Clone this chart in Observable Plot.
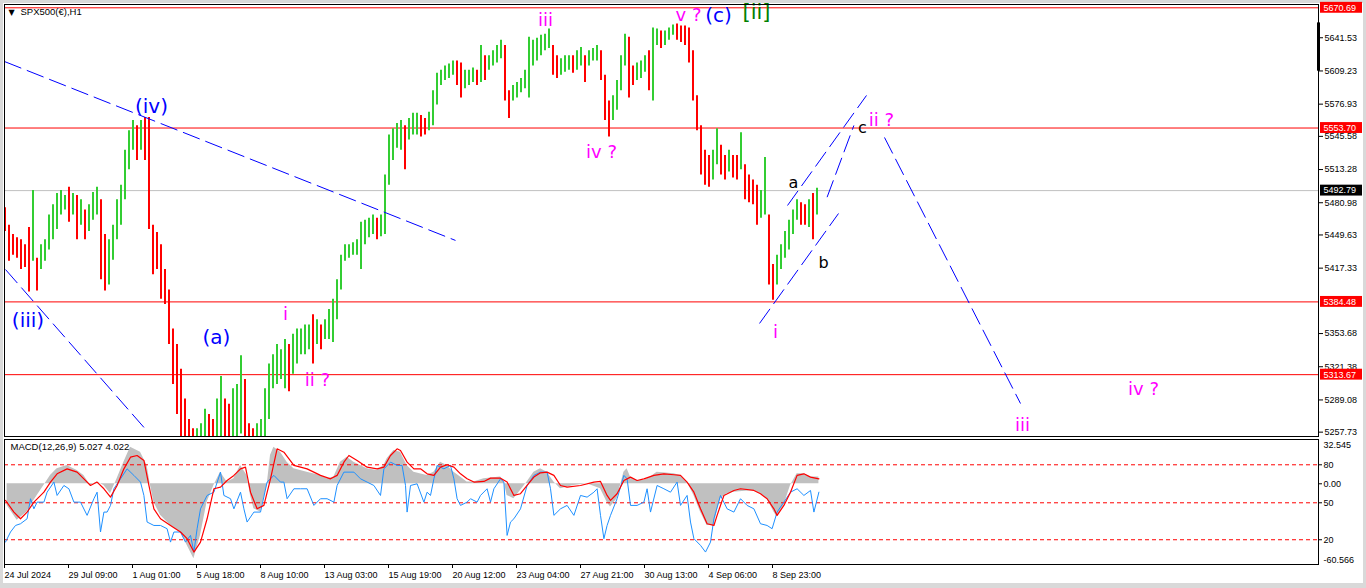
<!DOCTYPE html>
<html><head><meta charset="utf-8">
<script src="https://cdn.jsdelivr.net/npm/d3@7"></script>
<script src="https://cdn.jsdelivr.net/npm/@observablehq/plot@0.6"></script>
<style>
html,body{margin:0;padding:0;background:#d9d9d9;}
#wrap{position:relative;width:1366px;height:588px;background:#d9d9d9;overflow:hidden;}
#inner{position:absolute;left:3px;top:3px;width:1360px;height:580px;background:#fff;}
#main,#osc{position:absolute;left:0;}
#main{top:0px;}
#osc{top:437px;}
svg{display:block;}
</style></head><body>
<div id="wrap"><div id="inner"></div><div id="main"></div><div id="osc"></div></div>
<script>
// ---------- price data (2-hour samples of H1 bars) ----------
const priceHi = [5476,5459,5450,5447,5445,5440,5457,5493,5427,5440,5445,5469,5479,5490,5493,5488,5496,5490,5488,5484,
5474,5479,5491,5496,5484,5450,5445,5459,5484,5498,5532,5551,5561,5556,5561,5564,5564,5459,5452,5440,
5416,5396,5358,5343,5319,5290,5270,5261,5261,5266,5280,5275,5270,5290,5312,5290,5285,5300,5304,5332,
5309,5266,5261,5266,5270,5300,5324,5333,5343,5338,5348,5343,5353,5358,5358,5362,5362,5372,5367,5362,
5367,5377,5387,5406,5430,5440,5440,5442,5445,5462,5464,5466,5469,5466,5469,5508,5547,5553,5558,5561,
5556,5563,5568,5568,5566,5563,5569,5590,5607,5610,5614,5616,5619,5619,5617,5610,5610,5612,5610,5634,
5624,5624,5629,5634,5639,5634,5590,5595,5598,5602,5610,5642,5639,5641,5644,5645,5650,5634,5624,5621,
5624,5624,5624,5629,5632,5624,5629,5631,5634,5629,5605,5580,5585,5600,5624,5645,5642,5614,5617,5619,
5624,5629,5651,5650,5648,5648,5651,5654,5655,5653,5653,5651,5629,5585,5556,5532,5527,5532,5553,5537,
5527,5532,5527,5527,5549,5518,5508,5503,5498,5493,5525,5469,5421,5430,5440,5453,5464,5474,5484,5481,
5479,5484,5490,5495];
const priceLo = [5453,5424,5430,5427,5416,5418,5394,5424,5395,5416,5424,5435,5445,5455,5469,5474,5462,5469,5445,5459,
5445,5453,5464,5469,5406,5395,5401,5425,5445,5459,5484,5513,5532,5522,5532,5522,5455,5411,5416,5387,
5382,5343,5304,5275,5251,5232,5222,5222,5222,5232,5246,5241,5237,5251,5251,5246,5241,5251,5251,5256,
5246,5232,5227,5232,5241,5251,5270,5300,5304,5309,5300,5297,5314,5324,5333,5333,5338,5324,5343,5338,
5348,5348,5345,5367,5396,5424,5427,5430,5430,5416,5440,5447,5450,5445,5448,5450,5498,5522,5534,5532,
5513,5542,5547,5547,5545,5547,5551,5556,5576,5595,5600,5602,5605,5595,5583,5592,5595,5598,5595,5598,
5600,5610,5614,5617,5621,5580,5563,5580,5583,5588,5592,5583,5614,5619,5624,5629,5631,5605,5602,5605,
5608,5610,5607,5610,5614,5598,5614,5619,5619,5600,5561,5545,5561,5571,5590,5614,5583,5595,5600,5602,
5608,5590,5580,5634,5631,5634,5639,5644,5639,5637,5634,5617,5580,5551,5508,5498,5496,5503,5518,5508,
5503,5511,5505,5503,5513,5484,5481,5479,5459,5466,5469,5401,5386,5401,5416,5427,5435,5450,5464,5459,
5459,5457,5445,5469];

const redLevels = [5670.69, 5553.70, 5384.48, 5313.67];
const grayLevels = [5492.79];
const priceTicks = [5641.53,5609.23,5576.93,5545.58,5513.28,5480.98,5449.63,5417.33,5353.68,5321.38,5289.08,5257.73];

const timeTickBars = [0.5,32.5,64.5,96.5,128.5,160.5,192.5,224.5,256.5,288.5,320.5,352.5,384.5];
const timeLabels = ["24 Jul 2024","29 Jul 09:00","1 Aug 01:00","5 Aug 18:00","8 Aug 10:00","13 Aug 03:00","15 Aug 19:00",
"20 Aug 12:00","23 Aug 04:00","27 Aug 21:00","30 Aug 13:00","4 Sep 06:00","8 Sep 23:00"];

const trendLines = [
 {t1:0, p1:5618.4, t2:225.5, p2:5444.3},
 {t1:0.5, p1:5416.0, t2:71.5, p2:5258.4},
 {t1:377.5, p1:5363.5, t2:417, p2:5470.5},
 {t1:391.5, p1:5478.3, t2:431, p2:5585.4},
 {t1:411.3, p1:5486.4, t2:424.7, p2:5556.2},
 {t1:440, p1:5544.5, t2:508, p2:5285.6}
];

const waveLabels = [
 {text:"(iv)", t:73.5, p:5574.7, kind:"blue"},
 {text:"(iii)", t:11.75, p:5366.4, kind:"blue"},
 {text:"(a)", t:106, p:5349.9, kind:"blue"},
 {text:"(c)", t:357, p:5663.2, kind:"blue"},
 {text:"i", t:140.5, p:5372.2, kind:"mag"},
 {text:"ii ?", t:156.5, p:5308.0, kind:"mag"},
 {text:"iii", t:270.5, p:5658.3, kind:"mag"},
 {text:"iv ?", t:298.5, p:5529.9, kind:"mag"},
 {text:"v ?", t:342, p:5663.2, kind:"mag"},
 {text:"ii ?", t:438.5, p:5561.0, kind:"mag"},
 {text:"i", t:385.5, p:5354.7, kind:"mag"},
 {text:"iii", t:509, p:5264.2, kind:"mag"},
 {text:"iv ?", t:569.5, p:5299.3, kind:"mag"},
 {text:"a", t:394.5, p:5500.7, kind:"black"},
 {text:"b", t:409.5, p:5422.8, kind:"black"},
 {text:"c", t:429, p:5554.2, kind:"black"},
 {text:"[ii]", t:376, p:5666.1, kind:"green"}
];

// ---------- oscillator data ----------
const macdHist = [[1.3,-16.5],[6.3,-27.9],[11.3,-21.6],[14.7,-12.7],[19.7,-1.3],[23,6.4],[26.3,11.4],[31.3,14.0],[36.3,10.2],[39.7,6.4],[43,-1.3],[46.3,1.3],[49.7,-1.3],[53,-7.6],[56.3,3.8],[59.7,16.5],[63,27.9],[68,24.1],[71.3,14.0],[73,-1.3],[74.7,-14.0],[78,-24.1],[83,-31.8],[88,-36.8],[91.3,-47.0],[94.7,-57.2],[98,-39.4],[101.3,-14.0],[104.7,-1.3],[108,8.9],[111.3,1.3],[114.7,3.8],[118,14.0],[121.3,6.4],[123,-8.9],[124.7,-19.1],[128,-21.6],[131.3,-1.3],[133,21.6],[134.7,27.9],[138,24.1],[141.3,16.5],[144.7,11.4],[151.3,8.9],[158,6.4],[161.3,3.8],[164.7,5.1],[168,16.5],[171.3,20.3],[174.7,16.5],[178,14.0],[181.3,11.4],[186.3,10.2],[189.7,14.0],[191.3,19.1],[194.7,25.4],[198,24.1],[201.3,14.0],[204.7,8.9],[211.3,6.4],[214.7,8.9],[218,16.5],[221.3,14.0],[224.7,8.9],[228,5.1],[231.3,1.3],[234.7,1.3],[239.7,3.8],[248,5.1],[249.7,2.5],[251.3,-8.9],[254.7,-11.4],[258,-5.1],[261.3,1.3],[264.7,8.9],[268,11.4],[271.3,8.9],[274.7,1.3],[278,-3.8],[284.7,-1.3],[291.3,0],[298,-3.8],[301.3,-14.0],[303,-17.8],[306.3,-11.4],[308,-1.3],[309.7,8.9],[311.3,11.4],[313,5.1],[316.3,2.5],[319.7,2.5],[323,5.1],[326.3,8.9],[334.7,7.6],[338,6.4],[341.3,1.3],[344.7,-8.9],[348,-21.6],[351.3,-31.8],[354.7,-31.8],[356.3,-21.6],[358,-11.4],[361.3,-7.6],[364.7,-6.4],[374.7,-5.1],[378,-7.6],[381.3,-11.4],[384.7,-21.6],[386.3,-25.4],[389.7,-16.5],[393,-1.3],[396.3,7.6],[399.7,7.6],[403,5.1],[407.2,5.1]];

const macdSignal = [[0.5,-12.7],[4.7,-21.6],[8,-26.7],[11.3,-21.6],[14.7,-14.0],[19.7,-6.4],[23,1.3],[26.3,7.6],[31.3,11.4],[36.3,8.9],[39.7,3.8],[43,-1.3],[46.3,1.3],[49.7,-3.8],[53,-10.2],[56.3,-1.3],[59.7,11.4],[63,20.3],[66.3,21.6],[69.7,17.8],[72.2,-1.3],[74.7,-19.1],[78,-26.7],[83,-31.8],[88,-36.8],[91.3,-41.9],[94.7,-52.1],[98,-44.5],[101.3,-26.7],[104.7,-3.8],[108,-2.5],[111.3,2.5],[114.7,6.4],[118,11.4],[120.5,12.7],[123,-6.4],[126.3,-19.1],[129.7,-16.5],[133,3.8],[136.3,26.7],[139.7,24.1],[144.7,14.0],[151.3,11.4],[158,6.4],[163,3.8],[166.3,6.4],[169.7,16.5],[172.2,21.6],[176.3,17.8],[181.3,12.7],[186.3,11.4],[189.7,12.7],[193,21.6],[196.3,26.7],[198,25.4],[201.3,16.5],[204.7,11.4],[208,11.4],[211.3,7.6],[214.7,6.4],[218,12.7],[221.3,14.5],[224.7,12.7],[228,7.6],[231.3,3.8],[234.7,1.3],[239.7,1.8],[243,4.3],[248,4.3],[251.3,1.3],[254.7,-8.9],[258,-7.6],[261.3,-1.3],[264.7,5.1],[268,8.4],[271.3,8.9],[274.7,6.4],[278,-1.3],[281.3,-2.5],[288,-1.3],[294.7,1.3],[298,1.8],[301.3,-8.9],[303,-12.7],[306.3,-7.6],[309.7,2.5],[313,5.1],[316.3,2.5],[319.7,3.8],[324.7,6.4],[329.7,7.6],[334.7,6.9],[338,6.4],[341.3,1.3],[344.7,-6.4],[348,-19.1],[351.3,-30.5],[354.7,-31.8],[356.3,-24.1],[359.7,-8.9],[364.7,-5.1],[368,-3.8],[374.7,-5.1],[378,-7.6],[381.3,-11.4],[384.7,-19.1],[386.3,-24.1],[389.7,-16.5],[393,-6.4],[396.3,6.4],[399.7,7.6],[403,5.1],[407.2,3.8]];

const oscLine = [[0.5,-44.5],[3,-36.8],[5.5,-31.8],[8,-30.5],[11.3,-26.7],[13,-11.4],[14.7,-19.1],[16.3,-14.0],[19.7,-14.0],[21.3,-6.4],[24.7,1.3],[26.3,-8.9],[29.7,-1.3],[32.2,-3.8],[34.7,-14.0],[38,-14.0],[41.3,-24.1],[44.7,-11.4],[46.3,-6.4],[48,-36.8],[49.7,-21.6],[51.3,-21.6],[53,-16.5],[54.7,-3.8],[58,3.8],[61.3,11.4],[64.7,6.4],[68,1.3],[69.7,-8.9],[71.3,-29.2],[74.7,-31.8],[78,-31.8],[81.3,-34.3],[83,-44.5],[84.7,-36.8],[88,-36.8],[90.5,-44.5],[93,-39.4],[94.7,-52.1],[96.3,-34.3],[98,-19.1],[101.3,-8.9],[104.7,-6.4],[108,8.9],[109.7,-8.9],[113,-11.4],[114.7,-19.1],[118,-6.4],[119.7,-19.1],[121.3,-29.2],[124.7,-21.6],[128,-21.6],[131.3,1.3],[134.7,6.4],[138,1.3],[139.7,1.3],[141.3,-11.4],[144.7,-3.8],[148,-3.8],[151.3,-3.8],[154.7,-16.5],[158,-11.4],[161.3,-11.4],[164.7,-14.0],[166.3,-1.3],[169.7,8.9],[174.7,8.9],[178,3.8],[181.3,1.3],[184.7,-1.3],[188,-8.9],[189.7,11.4],[193,16.5],[196.3,14.0],[198.8,14.0],[200.5,-1.3],[201.3,-21.6],[203,-1.3],[206.3,0],[209.7,-14.0],[211.3,-6.4],[213,-8.9],[214.7,3.8],[216.3,14.0],[219.7,11.4],[223,14.0],[224.7,3.8],[226.3,-11.4],[228,-16.5],[231.3,-14.0],[233,-11.4],[236.3,-14.0],[238,-8.9],[241.3,-3.8],[243,-14.0],[244.7,-3.8],[248,3.8],[249.7,1.3],[251.3,-39.4],[253,-29.2],[254.7,-26.7],[258,-19.1],[261.3,-1.3],[264.7,6.4],[268,8.9],[271.3,8.9],[273,-3.8],[274.7,-24.1],[278,-19.1],[281.3,-16.5],[284.7,-24.1],[288,-8.9],[291.3,-10.2],[294.7,-6.4],[296.3,-3.8],[298,-24.1],[299.7,-41.9],[301.3,-31.8],[303,-24.1],[306.3,-11.4],[309.7,6.4],[311.3,3.8],[313,-16.5],[316.3,-16.5],[319.7,-14.0],[321.3,-3.8],[323,-21.6],[326.3,-1.3],[329.7,-3.8],[333,-6.4],[336.3,1.3],[338,-16.5],[341.3,-8.9],[343,-29.2],[344.7,-41.9],[348,-47.0],[350.5,-52.1],[353,-44.5],[354.7,-26.7],[358,-8.9],[361.3,-19.1],[364.7,-21.6],[368,-11.4],[371.3,-16.5],[374.7,-19.1],[378,-30.5],[381.3,-31.8],[383.8,-34.3],[386.3,-21.6],[389.7,-14.0],[393,-6.4],[396.3,-3.8],[399.7,-8.9],[403,-5.1],[404.7,-21.6],[407.2,-6.4]];

const oscLevels = [14.5, -14.5, -42.7];
const oscLevelLabels = ["80", "50", "20"];

// ---------- build ----------
const bars = priceHi.map((h, i) => ({
  t: 2 * i + 0.5, hi: h, lo: priceLo[i],
  up: i > 0 && (h + priceLo[i]) >= (priceHi[i - 1] + priceLo[i - 1])
}));
const timeLabelMap = new Map(timeTickBars.map((b, i) => [b, timeLabels[i]]));
const oscTickMap = new Map([[0, "0.00"], ...oscLevels.map((v, i) => [v, oscLevelLabels[i]])]);

const axisFont = "Liberation Sans, Arial, sans-serif";
const labelFont = "DejaVu Sans, Verdana, sans-serif";
const xDomain = [0, 657];
const tagX1 = 658, tagX2 = 679;

const kinds = {
  blue: {fill: "#0000ff", fontSize: 20},
  mag: {fill: "#ff00ff", fontSize: 18},
  black: {fill: "#000000", fontSize: 16},
  green: {fill: "#008000", fontSize: 21}
};
const labelMarks = Object.entries(kinds).map(([k, s]) =>
  Plot.text(waveLabels.filter(d => d.kind === k), {x: "t", y: "p", text: "text", fill: s.fill, fontSize: s.fontSize, fontFamily: labelFont}));

const main = Plot.plot({
  width: 1366, height: 437,
  marginLeft: 4, marginRight: 48, marginTop: 4, marginBottom: 1,
  style: {background: "transparent", fontFamily: axisFont, fontSize: "9px", color: "black"},
  x: {domain: xDomain, axis: null},
  y: {domain: [5253.5, 5673.9], axis: null},
  marks: [
    Plot.ruleY(grayLevels, {stroke: "#c0c0c0"}),
    Plot.ruleY(redLevels, {stroke: "#ff0000"}),
    Plot.ruleX(bars.filter(d => d.up), {x: "t", y1: "lo", y2: "hi", stroke: "#32cd32", strokeWidth: 2, dx: -0.5, clip: true}),
    Plot.ruleX(bars.filter(d => !d.up), {x: "t", y1: "lo", y2: "hi", stroke: "#ff0000", strokeWidth: 2, dx: -0.5, clip: true}),
    Plot.link(trendLines, {x1: "t1", y1: "p1", x2: "t2", y2: "p2", stroke: "#0000ff", strokeWidth: 1, strokeDasharray: "18,6", clip: true}),
    ...labelMarks,
    Plot.frame({stroke: "black"}),
    Plot.ruleX([xDomain[1]], {y1: 5609, y2: 5656, stroke: "black", strokeWidth: 3}),
    Plot.axisY(priceTicks, {anchor: "right", tickFormat: d => d.toFixed(2), tickSize: 4, tickPadding: 2}),
    Plot.rect(redLevels, {x1: tagX1, x2: tagX2, y1: d => d - 5.3, y2: d => d + 5.3, fill: "#ff0000"}),
    Plot.rect(grayLevels, {x1: tagX1, x2: tagX2, y1: d => d - 5.3, y2: d => d + 5.3, fill: "#000000"}),
    Plot.text(redLevels.concat(grayLevels), {x: tagX1, y: d => d, text: d => d.toFixed(2), fill: "white", textAnchor: "start", dx: 3}),
    Plot.text(["▼"], {frameAnchor: "top-left", dx: 4, dy: 5, lineAnchor: "top", textAnchor: "start", fontSize: 8, fontFamily: labelFont}),
    Plot.text(["SPX500(€),H1"], {frameAnchor: "top-left", dx: 16, dy: 4, lineAnchor: "top", textAnchor: "start", fontSize: 9.5})
  ]
});
document.getElementById("main").appendChild(main);

const osc = Plot.plot({
  width: 1366, height: 151,
  marginLeft: 4, marginRight: 48, marginTop: 2, marginBottom: 24,
  style: {background: "transparent", fontFamily: axisFont, fontSize: "9px", color: "black"},
  x: {domain: xDomain, axis: null},
  y: {domain: [-61.6, 33.8], axis: null},
  marks: [
    Plot.areaY(macdHist, {x: d => d[0], y: d => d[1], fill: "#c0c0c0"}),
    Plot.ruleY(oscLevels, {stroke: "#ff0000", strokeDasharray: "4,3"}),
    Plot.line(oscLine, {x: d => d[0], y: d => d[1], stroke: "#1e90ff", strokeWidth: 1}),
    Plot.line(macdSignal, {x: d => d[0], y: d => d[1], stroke: "#ff0000", strokeWidth: 1.2}),
    Plot.frame({stroke: "black"}),
    Plot.axisX(timeTickBars, {anchor: "bottom", tickFormat: d => timeLabelMap.get(d), textAnchor: "start", tickSize: 4, tickPadding: 3, dx: -1}),
    Plot.axisY([...oscTickMap.keys()], {anchor: "right", tickFormat: d => oscTickMap.get(d), tickSize: 3, tickPadding: 2}),
    Plot.text(["32.545"], {x: xDomain[1], y: 32.545, text: d => d, textAnchor: "start", lineAnchor: "top", dx: 5}),
    Plot.text(["-60.566"], {x: xDomain[1], y: -60.566, text: d => d, textAnchor: "start", lineAnchor: "bottom", dx: 5}),
    Plot.text(["MACD(12,26,9) 5.027 4.022"], {frameAnchor: "top-left", dx: 6, dy: 4, lineAnchor: "top", textAnchor: "start", fontSize: 9.5})
  ]
});
document.getElementById("osc").appendChild(osc);
</script>
</body></html>
